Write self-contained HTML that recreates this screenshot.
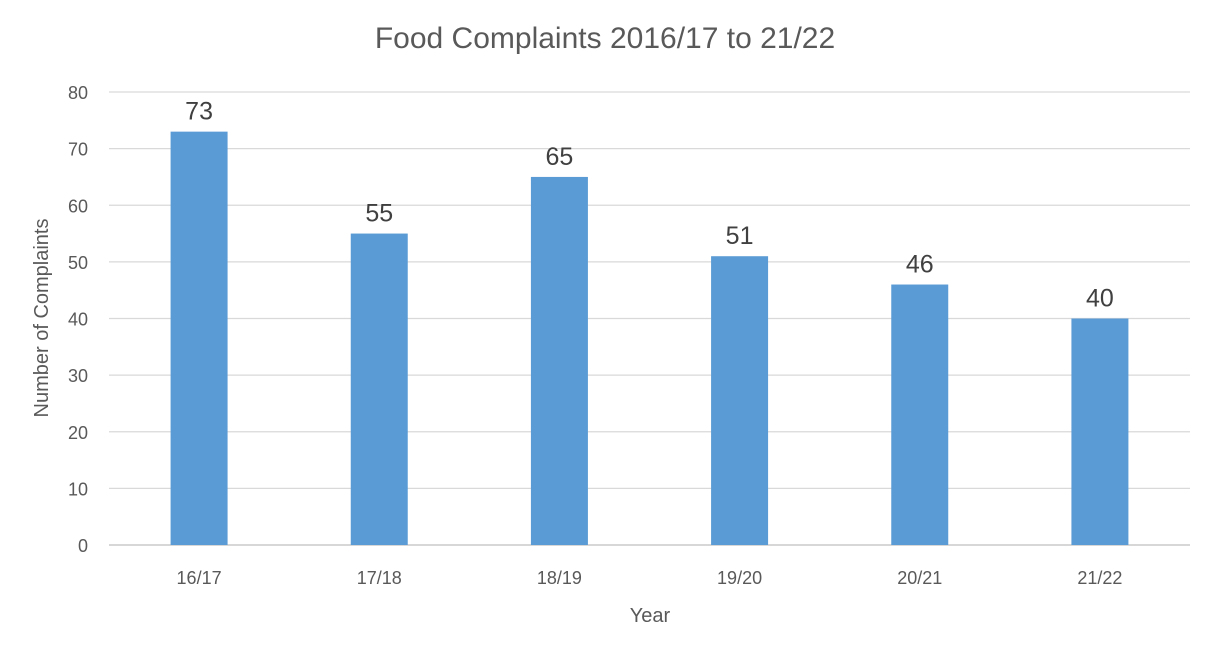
<!DOCTYPE html>
<html><head><meta charset="utf-8"><style>
body{margin:0;background:#fff;}
svg text{font-family:"Liberation Sans",sans-serif;fill:#595959;}
</style></head><body>
<svg id="chart" width="1212" height="658" viewBox="0 0 1212 658">
<rect width="1212" height="658" fill="#fff"/>
<text x="605" y="48" font-size="30" text-anchor="middle">Food Complaints 2016/17 to 21/22</text>
<text transform="translate(48,318) rotate(-90)" font-size="20" text-anchor="middle">Number of Complaints</text>
<text x="650" y="622" font-size="20" text-anchor="middle">Year</text>
<g id="grid"></g><g id="bars"></g>
</svg>
<script>
const categories=["16/17","17/18","18/19","19/20","20/21","21/22"];
const values=[73,55,65,51,46,40];
const yTicks=[0,10,20,30,40,50,60,70,80];
const svg=document.getElementById('chart');
const NS='http://www.w3.org/2000/svg';
const x0=109,x1=1190,y0=545,yTop=92,yMax=80;
const bw=(x1-x0)/categories.length;
function y(v){return y0-(v/yMax)*(y0-yTop);}
function xc(i){return x0+bw*(i+0.5);}
const grid=document.getElementById('grid');
yTicks.forEach(t=>{
 const l=document.createElementNS(NS,'line');
 l.setAttribute('x1',x0);l.setAttribute('x2',x1);l.setAttribute('y1',y(t));l.setAttribute('y2',y(t));
 l.setAttribute('stroke',t===0?'#bfbfbf':'#d9d9d9');l.setAttribute('stroke-width','1.3');
 
 
 grid.appendChild(l);
 const tx=document.createElementNS(NS,'text');
 tx.setAttribute('x',88);tx.setAttribute('y',y(t)+7);tx.setAttribute('font-size','18');tx.setAttribute('text-anchor','end');
 tx.textContent=t;
 
 
 grid.appendChild(tx);
});
const bars=document.getElementById('bars');
const w=57;
categories.forEach((c,i)=>{
 const v=values[i];
 const r=document.createElementNS(NS,'rect');
 r.setAttribute('x',xc(i)-w/2);r.setAttribute('y',y(v));r.setAttribute('width',w);r.setAttribute('height',y0-y(v));
 r.setAttribute('fill','#5B9BD5');
 
 
 bars.appendChild(r);
 const lb=document.createElementNS(NS,'text');
 lb.setAttribute('x',xc(i));lb.setAttribute('y',y(v)-12);lb.setAttribute('font-size','25');lb.setAttribute('text-anchor','middle');
 lb.setAttribute('style','fill:#404040');
 lb.textContent=v;
 
 
 bars.appendChild(lb);
 const xl=document.createElementNS(NS,'text');
 xl.setAttribute('x',xc(i));xl.setAttribute('y',584);xl.setAttribute('font-size','18');xl.setAttribute('text-anchor','middle');
 xl.textContent=c;
 
 
 bars.appendChild(xl);
});
</script>
</body></html>
